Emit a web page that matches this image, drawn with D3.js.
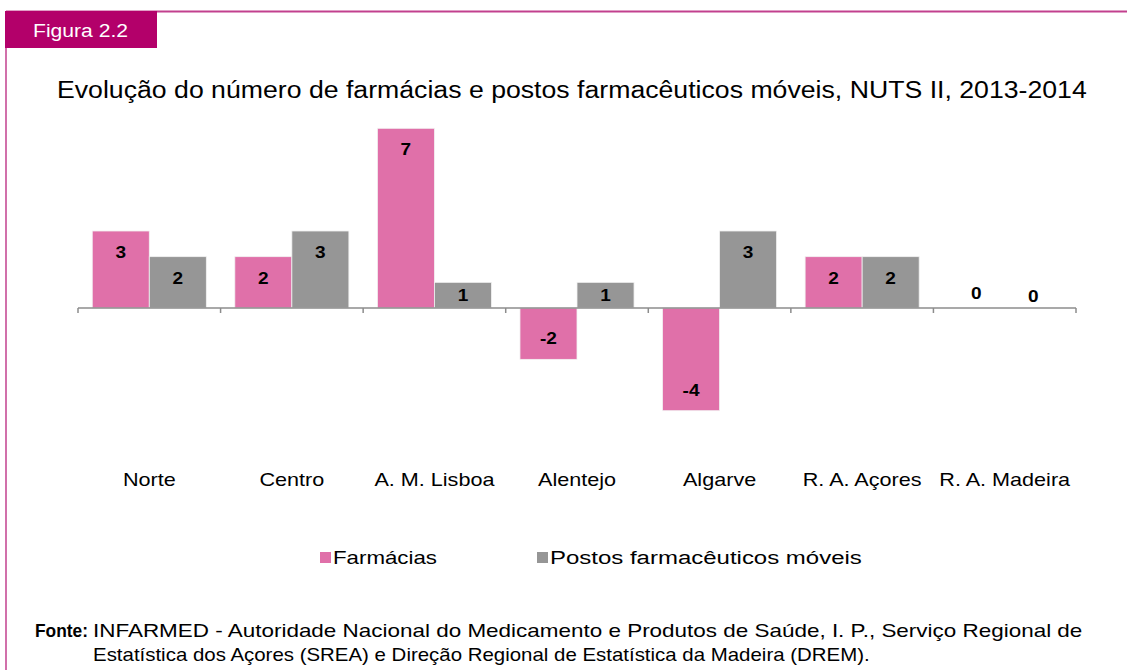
<!DOCTYPE html>
<html lang="pt">
<head>
<meta charset="utf-8">
<title>Figura 2.2</title>
<script src="https://d3js.org/d3.v7.min.js"></script>
<style>
  html, body { margin: 0; padding: 0; background: #fff; }
  svg text { font-family: "Liberation Sans", Arial, sans-serif; }
</style>
</head>
<body>
<div id="chart"></div>
<script>
// data
var regions = ["Norte", "Centro", "A. M. Lisboa", "Alentejo", "Algarve", "R. A. Açores", "R. A. Madeira"];
var seriesNames = ["Farmácias", "Postos farmacêuticos móveis"];
var farmacias = [3, 2, 7, -2, -4, 2, 0];
var postos = [2, 3, 1, 1, 3, 2, 0];
var colors = ["#e070a9", "#969696"];

var w = 1127, h = 670;
var svg = d3.select("#chart").append("svg")
  .attr("width", w).attr("height", h);

// the original picture is stretched sideways: stretch glyphs horizontally
// k = fixed factor, or width = target width in px
function stretch(sel, k, width) {
  sel.each(function(d, i) {
    var t = d3.select(this);
    var x = +t.attr("x"), y = +t.attr("y");
    var f = k;
    if (width) f = (typeof width === "function" ? width(d, i) : width) / this.getComputedTextLength();
    t.attr("x", 0).attr("y", 0)
      .attr("transform", "translate(" + x + "," + y + ") scale(" + f + ",1)");
  });
}

// frame + tab
svg.append("line").attr("x1", 6).attr("x2", 6).attr("y1", 11).attr("y2", h)
  .attr("stroke", "#c2408e").attr("stroke-width", 1.5);
svg.append("line").attr("x1", 6).attr("x2", w).attr("y1", 11.5).attr("y2", 11.5)
  .attr("stroke", "#c2408e").attr("stroke-width", 2);
svg.append("rect").attr("x", 5).attr("y", 11).attr("width", 152).attr("height", 37)
  .attr("fill", "#b3006a");
svg.append("text").attr("x", 33).attr("y", 37)
  .attr("fill", "#fff").attr("font-size", 18)
  .text("Figura 2.2")
  .call(stretch, 1, 95);

// title
svg.append("text").attr("x", 57).attr("y", 98)
  .attr("font-size", 23.5).attr("fill", "#000")
  .text("Evolução do número de farmácias e postos farmacêuticos móveis, NUTS II, 2013-2014")
  .call(stretch, 1, 1030);

// scales
var x0 = d3.scaleBand().domain(regions).range([78, 1076]).paddingInner(0.2).paddingOuter(0.1);
var x1 = d3.scaleBand().domain(seriesNames).range([0, x0.bandwidth()]);
var y = d3.scaleLinear().domain([-4, 7]).range([410.7, 128.3]);

var rows = regions.map(function(r, i) {
  return { region: r, values: [farmacias[i], postos[i]] };
});

var groups = svg.selectAll("g.grp").data(rows).enter().append("g")
  .attr("class", "grp")
  .attr("transform", function(d) { return "translate(" + x0(d.region) + ",0)"; });

groups.selectAll("rect").data(function(d) {
    return d.values.map(function(v, k) { return { k: k, v: v }; });
  }).enter().append("rect")
  .attr("x", function(d) { return x1(seriesNames[d.k]); })
  .attr("y", function(d) { return y(Math.max(0, d.v)); })
  .attr("width", x1.bandwidth())
  .attr("height", function(d) { return Math.abs(y(d.v) - y(0)); })
  .attr("fill", function(d) { return colors[d.k]; })
  .attr("stroke", function(d) { return d.v === 0 ? "none" : "#f2f2f2"; })
  .attr("stroke-width", 0.8);

groups.selectAll("text.lbl").data(function(d) {
    return d.values.map(function(v, k) { return { k: k, v: v }; });
  }).enter().append("text")
  .attr("class", "lbl")
  .attr("x", function(d) { return x1(seriesNames[d.k]) + x1.bandwidth() / 2; })
  .attr("y", function(d) {
    var hgt = Math.abs(y(d.v) - y(0));
    var off = Math.min(21, hgt / 2);
    if (d.v === 0) return y(0) - 15 + 6 + (d.k === 1 ? 3 : 0);
    return (d.v > 0 ? y(d.v) + off : y(d.v) - off) + 6;
  })
  .attr("text-anchor", "middle").attr("font-size", 17).attr("font-weight", "bold")
  .attr("fill", "#000")
  .text(function(d) { return d.v; })
  .call(stretch, 1.12);

// axis with ticks at category boundaries
var axisY = y(0);
svg.append("line").attr("x1", 78).attr("x2", 1076).attr("y1", axisY).attr("y2", axisY)
  .attr("stroke", "#8c8c8c").attr("stroke-width", 1.5);
var bounds = d3.range(regions.length + 1).map(function(i) { return 78 + i * (998 / regions.length); });
svg.selectAll("line.tick").data(bounds).enter().append("line")
  .attr("class", "tick")
  .attr("x1", function(d) { return d; }).attr("x2", function(d) { return d; })
  .attr("y1", axisY).attr("y2", axisY + 5)
  .attr("stroke", "#8c8c8c").attr("stroke-width", 1.5);

// category labels
svg.selectAll("text.cat").data(regions).enter().append("text")
  .attr("class", "cat")
  .attr("x", function(d) { return x0(d) + x0.bandwidth() / 2; })
  .attr("y", 486)
  .attr("text-anchor", "middle").attr("font-size", 18).attr("fill", "#000")
  .text(function(d) { return d; })
  .call(stretch, 1.2);

// legend
var legX = [320, 537];
var legLen = [104, 312];
var leg = svg.selectAll("g.leg").data(seriesNames).enter().append("g")
  .attr("class", "leg")
  .attr("transform", function(d, i) { return "translate(" + legX[i] + ",0)"; });
leg.append("rect").attr("x", 0).attr("y", 552).attr("width", 11).attr("height", 11)
  .attr("fill", function(d, i) { return colors[i]; });
leg.append("text").attr("x", 13).attr("y", 564).attr("font-size", 19).attr("fill", "#000")
  .text(function(d) { return d; })
  .call(stretch, 1, function(d, i) { return legLen[i]; });

// source note
svg.append("text").attr("x", 35).attr("y", 637).attr("font-size", 18.5)
  .attr("font-weight", "bold").attr("fill", "#000").text("Fonte:")
  .call(stretch, 1, 53);
svg.append("text").attr("x", 93).attr("y", 637).attr("font-size", 18).attr("fill", "#000")
  .text("INFARMED - Autoridade Nacional do Medicamento e Produtos de  Saúde, I. P., Serviço Regional de")
  .call(stretch, 1, 990);
svg.append("text").attr("x", 93).attr("y", 661).attr("font-size", 18).attr("fill", "#000")
  .text("Estatística dos Açores (SREA) e Direção Regional de Estatística da Madeira (DREM).")
  .call(stretch, 1, 777);
</script>
</body>
</html>
